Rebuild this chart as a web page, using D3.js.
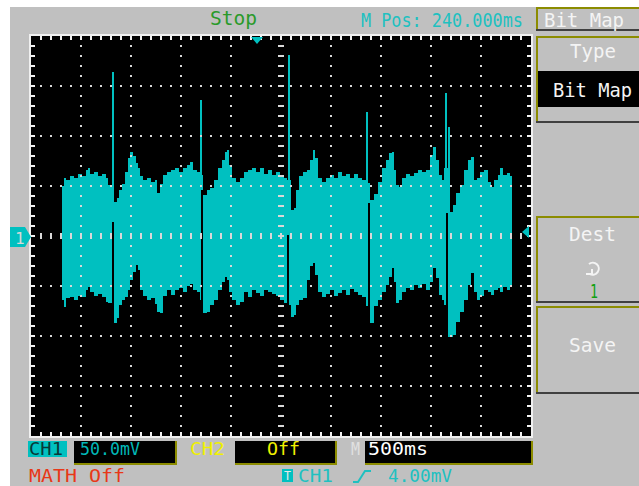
<!DOCTYPE html>
<html><head><meta charset="utf-8">
<script src="https://cdn.jsdelivr.net/npm/d3@7"></script>
<style>html,body{margin:0;padding:0;background:#fff}svg{display:block}text{font-family:"DejaVu Sans Mono",monospace}</style>
</head><body><svg id="c" width="639" height="486"></svg>
<script>
// ---- data (time in ms from left edge, amplitude in mV) ----
const timeMs=[310,330,350,390,430,470,510,550,570,590,630,670,710,750,770,810,830,860,880,910,940,970,990,1020,1050,1070,1090,1120,1160,1200,1240,1260,1290,1320,1360,1400,1440,1480,1520,1560,1590,1620,1660,1690,1720,1760,1790,1830,1870,1910,1940,1960,1980,2010,2050,2090,2130,2170,2210,2250,2290,2330,2370,2410,2450,2490,2530,2560,2600,2630,2650,2680,2720,2760,2790,2820,2840,2870,2910,2950,2990,3030,3070,3110,3150,3190,3230,3270,3310,3350,3390,3430,3470,3510,3550,3580,3610,3630,3650,3680,3710,3750,3790,3830,3870,3910,3950,3990,4020,4050,4080,4110,4130,4170,4190,4220,4250,4290,4330,4370,4400,4430,4460,4490,4530,4570,4600,4630,4670,4690,4720,4760,4790,4810];
const upperMv=[50,58,56,60,58,62,60,66,68,62,64,60,62,58,51,50,34,38,46,52,64,78,84,80,73,68,60,56,58,54,56,43,52,61,64,66,68,64,68,71,74,66,64,61,41,46,48,56,68,76,84,86,71,58,54,58,64,66,68,64,68,62,66,61,64,59,58,56,26,28,46,60,64,66,76,86,78,58,54,58,61,58,64,60,62,58,62,58,56,53,36,42,54,68,76,83,84,66,51,49,58,62,60,63,66,64,66,81,89,76,61,56,68,30,24,31,43,51,66,76,79,56,58,64,66,54,49,56,61,68,61,63,60,60];
const lowerMv=[-64,-71,-62,-61,-64,-60,-61,-54,-51,-56,-60,-58,-61,-66,-67,-68,-87,-82,-69,-64,-61,-54,-44,-36,-29,-34,-54,-60,-64,-62,-68,-76,-77,-60,-54,-59,-54,-52,-56,-50,-48,-54,-56,-64,-77,-76,-69,-64,-54,-46,-41,-44,-56,-64,-69,-66,-56,-61,-54,-57,-60,-54,-56,-58,-60,-64,-67,-69,-81,-79,-69,-64,-62,-44,-30,-27,-39,-56,-61,-58,-54,-60,-57,-54,-59,-53,-56,-59,-61,-70,-87,-70,-64,-56,-49,-41,-32,-46,-67,-64,-56,-52,-54,-49,-52,-48,-54,-46,-32,-42,-59,-64,-69,-101,-101,-99,-86,-76,-64,-49,-37,-56,-64,-60,-54,-56,-59,-54,-52,-56,-51,-54,-50,-50];
const spikeTimeMs=[820,1700,2580,3360,4150,4175];
const spikeTopMv=[164,136,181,124,143,109];
const spikeBaseMv=[14,46,20,40,23,30];
const gapTimeMs=[820,1710,2565,3375,4160];
const gapTopMv=[14,46,1,33,23];
const gapBottomMv=[-71,-69,-71,-84,-71];
const timeDomainMs=[0,5000];
const voltDomainMv=[-200,200];
const triggerPosMs=2260;
const triggerLevelMv=4;

const CYAN="#00c0c0", GRAY="#c0c0c0", OLIVE="#8c8c00";
const svg=d3.select("#c");
svg.append("rect").attr("width",639).attr("height",486).attr("fill","#fff");
svg.append("rect").attr("x",10).attr("y",7).attr("width",629).attr("height",479).attr("fill",GRAY);

const x=d3.scaleLinear().domain(timeDomainMs).range([31,531]);
const y=d3.scaleLinear().domain(voltDomainMv).range([436,36]);
const g=svg.append("g").attr("shape-rendering","crispEdges");
g.append("rect").attr("x",31).attr("y",36).attr("width",500).attr("height",400).attr("fill","#000");

// waveform envelope
const pts=timeMs.map((t,i)=>({t,hi:upperMv[i],lo:lowerMv[i]}));
g.append("path").datum(pts)
 .attr("d",d3.area().curve(d3.curveStepAfter).x(d=>x(d.t)).y0(d=>y(d.lo)).y1(d=>y(d.hi)))
 .attr("fill",CYAN);
// gaps
g.selectAll(".gap").data(gapTimeMs).enter().append("rect")
 .attr("x",d=>x(d)-1).attr("width",2)
 .attr("y",(d,i)=>y(gapTopMv[i])).attr("height",(d,i)=>y(gapBottomMv[i])-y(gapTopMv[i]))
 .attr("fill","#000");
// spikes
g.selectAll(".spk").data(spikeTimeMs).enter().append("rect")
 .attr("x",d=>x(d)-1).attr("width",2)
 .attr("y",(d,i)=>y(spikeTopMv[i])).attr("height",(d,i)=>y(spikeBaseMv[i])-y(spikeTopMv[i]))
 .attr("fill",CYAN);

// grid
const DOT="#d8d8d8";
const minorT=d3.range(100,5000,100), minorV=d3.range(-190,200,10);
const majT=d3.range(500,5000,500).filter(t=>t!==2500), majV=[-150,-100,-50,50,100,150];
majT.forEach(t=>minorV.forEach(v=>g.append("rect").attr("x",Math.round(x(t))-1).attr("y",Math.round(y(v))-1).attr("width",2).attr("height",2).attr("fill",DOT)));
majV.forEach(v=>minorT.forEach(t=>g.append("rect").attr("x",Math.round(x(t))-1).attr("y",Math.round(y(v))-1).attr("width",2).attr("height",2).attr("fill",DOT)));
minorV.forEach(v=>g.append("rect").attr("x",x(2500)-3).attr("y",Math.round(y(v))-1).attr("width",6).attr("height",2).attr("fill",DOT));
minorT.forEach(t=>g.append("rect").attr("x",Math.round(x(t))-1).attr("y",y(0)-3).attr("width",2).attr("height",6).attr("fill",DOT));
// border + ticks
const W="#f0f0f0";
g.append("rect").attr("x",30).attr("y",35).attr("width",502).attr("height",402).attr("fill","none").attr("stroke",W).attr("stroke-width",2);
minorT.forEach(t=>{const xx=Math.round(x(t))-1;
 g.append("rect").attr("x",xx).attr("y",36).attr("width",2).attr("height",4).attr("fill",W);
 g.append("rect").attr("x",xx).attr("y",432).attr("width",2).attr("height",4).attr("fill",W);});
minorV.forEach(v=>{const yy=Math.round(y(v))-1;
 g.append("rect").attr("x",31).attr("y",yy).attr("width",4).attr("height",2).attr("fill",W);
 g.append("rect").attr("x",527).attr("y",yy).attr("width",4).attr("height",2).attr("fill",W);});

// markers
svg.append("path").attr("d",`M10,227H25L31,${y(0)+1}L25,247H10Z`).attr("fill",CYAN);
svg.append("text").attr("x",15).attr("y",244).attr("font-size",16).attr("fill","#d8d8d8").text("1");
const tx=x(triggerPosMs);
svg.append("path").attr("d",`M${tx-6},37H${tx+6}L${tx},44Z`).attr("fill",CYAN);
const ty=y(triggerLevelMv);
svg.append("path").attr("d",`M522,${ty}L529,${ty-6}V${ty+6}Z`).attr("fill",CYAN);

// text helper
function txt(s,x0,yb,w,size,fill){return svg.append("text").attr("x",x0).attr("y",yb).attr("font-size",size).attr("fill",fill).attr("textLength",w).attr("lengthAdjust","spacingAndGlyphs").text(s);}
txt("Stop",210,25,47,20,"#2a9a2a");
txt("M Pos: 240.000ms",361,27,162,19,"#20c0c0");

// right panel
function btn(y0,y1){
 svg.append("rect").attr("x",536).attr("y",y0).attr("width",103).attr("height",y1-y0).attr("fill",GRAY);
 svg.append("rect").attr("x",536).attr("y",y0).attr("width",103).attr("height",2).attr("fill",OLIVE);
 svg.append("rect").attr("x",536).attr("y",y0).attr("width",2).attr("height",y1-y0).attr("fill",OLIVE);
 svg.append("rect").attr("x",536).attr("y",y1-2).attr("width",103).attr("height",2).attr("fill","#404040");
}
btn(7,31);
txt("Bit Map",544,27,80,20,"#f4f4f4");
btn(36,123);
txt("Type",570,58,46,20,"#f4f4f4");
svg.append("rect").attr("x",538).attr("y",71).attr("width",101).attr("height",36).attr("fill","#000");
txt("Bit Map",553,97,79,20,"#f4f4f4");
btn(216,303);
txt("Dest",569,241,47,20,"#f4f4f4");
svg.append("path").attr("d","M589,264 A6,6 0 1 1 590,274").attr("fill","none").attr("stroke","#f4f4f4").attr("stroke-width",2);
svg.append("path").attr("d","M586,274H592V269").attr("fill","none").attr("stroke","#f4f4f4").attr("stroke-width",2);
txt("1",590,298,8,20,"#10a010");
btn(306,394);
txt("Save",569,352,47,20,"#f4f4f4");

// bottom bar
svg.append("rect").attr("x",28).attr("y",441).attr("width",39).attr("height",16).attr("fill",CYAN);
txt("CH1",29,455,34,17,"#083838");
function box(x0,x1){
 svg.append("rect").attr("x",x0).attr("y",441).attr("width",x1-x0).attr("height",24).attr("fill",OLIVE);
 svg.append("rect").attr("x",x0).attr("y",441).attr("width",x1-x0-2).attr("height",22).attr("fill","#000");
}
box(74,177);
txt("50.0mV",80,455,60,17,"#00b8b8");
txt("CH2",190,455,35,17,"#f0f000");
box(235,337);
txt("Off",267,455,33,17,"#f0f000");
txt("M",351,455,9,17,"#e0e0e0");
box(365,533);
txt("500ms",368,455,60,17,"#ffffff");
txt("MATH Off",29,482,96,18,"#e83818");
svg.append("rect").attr("x",282).attr("y",469).attr("width",11).attr("height",13).attr("fill",CYAN);
txt("T",284,480,7,12,"#e8e8e8");
txt("CH1",298,482,35,18,"#20c0c0");
svg.append("path").attr("d","M353,482H358L365,471H371").attr("fill","none").attr("stroke","#20c0c0").attr("stroke-width",2);
txt("4.00mV",388,482,64,18,"#20c0c0");
</script></body></html>
